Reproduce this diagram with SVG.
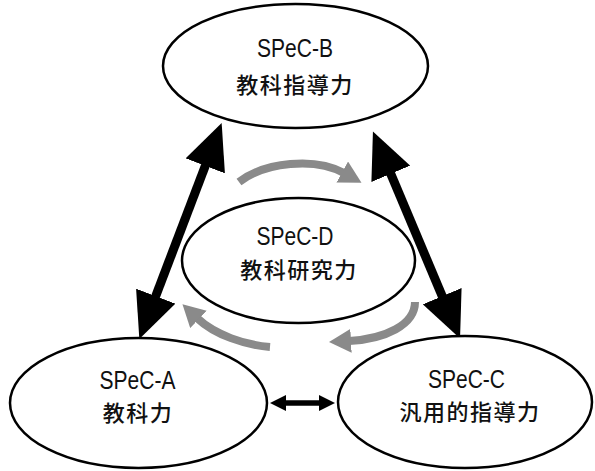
<svg xmlns="http://www.w3.org/2000/svg" width="595" height="471" viewBox="0 0 595 471">
<style>
.node ellipse{fill:#fff;stroke:#000;stroke-width:2.5}
.lat{font-family:"Liberation Sans",Arial,sans-serif;font-size:21px;fill:#111;text-anchor:middle}
.cjk{font-family:"Noto Sans CJK JP","Noto Sans CJK SC",sans-serif;font-size:22px;font-weight:500;letter-spacing:1.5px;fill:#111;text-anchor:middle}
.blk{stroke:#000;fill:none}
.gry{stroke:#8a8a8a;stroke-width:8;fill:none}
</style>
<defs>
<marker id="bh" markerUnits="userSpaceOnUse" markerWidth="48" markerHeight="42" refX="2" refY="21" orient="auto-start-reverse" viewBox="0 0 48 42"><path d="M0,0 L46,21 L0,42 Z" fill="#000"/></marker>
<marker id="sh" markerUnits="userSpaceOnUse" markerWidth="16" markerHeight="16" refX="1" refY="8" orient="auto-start-reverse" viewBox="0 0 16 16"><path d="M0,0 L16,8 L0,16 Z" fill="#000"/></marker>
<marker id="gh" markerUnits="userSpaceOnUse" markerWidth="22" markerHeight="24" refX="2" refY="12" orient="auto" viewBox="0 0 22 24"><path d="M0,0 L22,12 L0,24 Z" fill="#8a8a8a"/></marker>
</defs>
<g id="connectors">
<line class="blk" stroke-width="9" x1="155" y1="298" x2="206" y2="164" marker-start="url(#bh)" marker-end="url(#bh)"/>
<line class="blk" stroke-width="9" x1="390" y1="172" x2="443" y2="298" marker-start="url(#bh)" marker-end="url(#bh)"/>
<line class="blk" stroke-width="5.5" x1="285" y1="403" x2="320" y2="403" marker-start="url(#sh)" marker-end="url(#sh)"/>
<path class="gry" d="M239,182 C265,162 315,157 344,173" marker-end="url(#gh)"/>
<path class="gry" d="M270,347 C245,345 215,335 197,318" marker-end="url(#gh)"/>
<path class="gry" d="M415,302 C415,325 385,339 349,341" marker-end="url(#gh)"/>
</g>
<g id="nodeB" class="node">
<ellipse cx="295.5" cy="66" rx="132.5" ry="62"/>
<text class="lat" transform="translate(295,57) scale(1,1.27)">SPeC-B</text>
<text class="cjk" x="295" y="93">教科指導力</text>
</g>
<g id="nodeD" class="node">
<ellipse cx="298.5" cy="260.5" rx="116.5" ry="62.5"/>
<text class="lat" transform="translate(295,245) scale(1,1.27)">SPeC-D</text>
<text class="cjk" x="299" y="278">教科研究力</text>
</g>
<g id="nodeA" class="node">
<ellipse cx="138.5" cy="403" rx="128.5" ry="65"/>
<text class="lat" transform="translate(137.5,389) scale(1,1.27)">SPeC-A</text>
<text class="cjk" x="138" y="421">教科力</text>
</g>
<g id="nodeC" class="node">
<ellipse cx="465" cy="402" rx="127" ry="66"/>
<text class="lat" transform="translate(466.5,388) scale(1,1.27)">SPeC-C</text>
<text class="cjk" x="470" y="420">汎用的指導力</text>
</g>
</svg>
